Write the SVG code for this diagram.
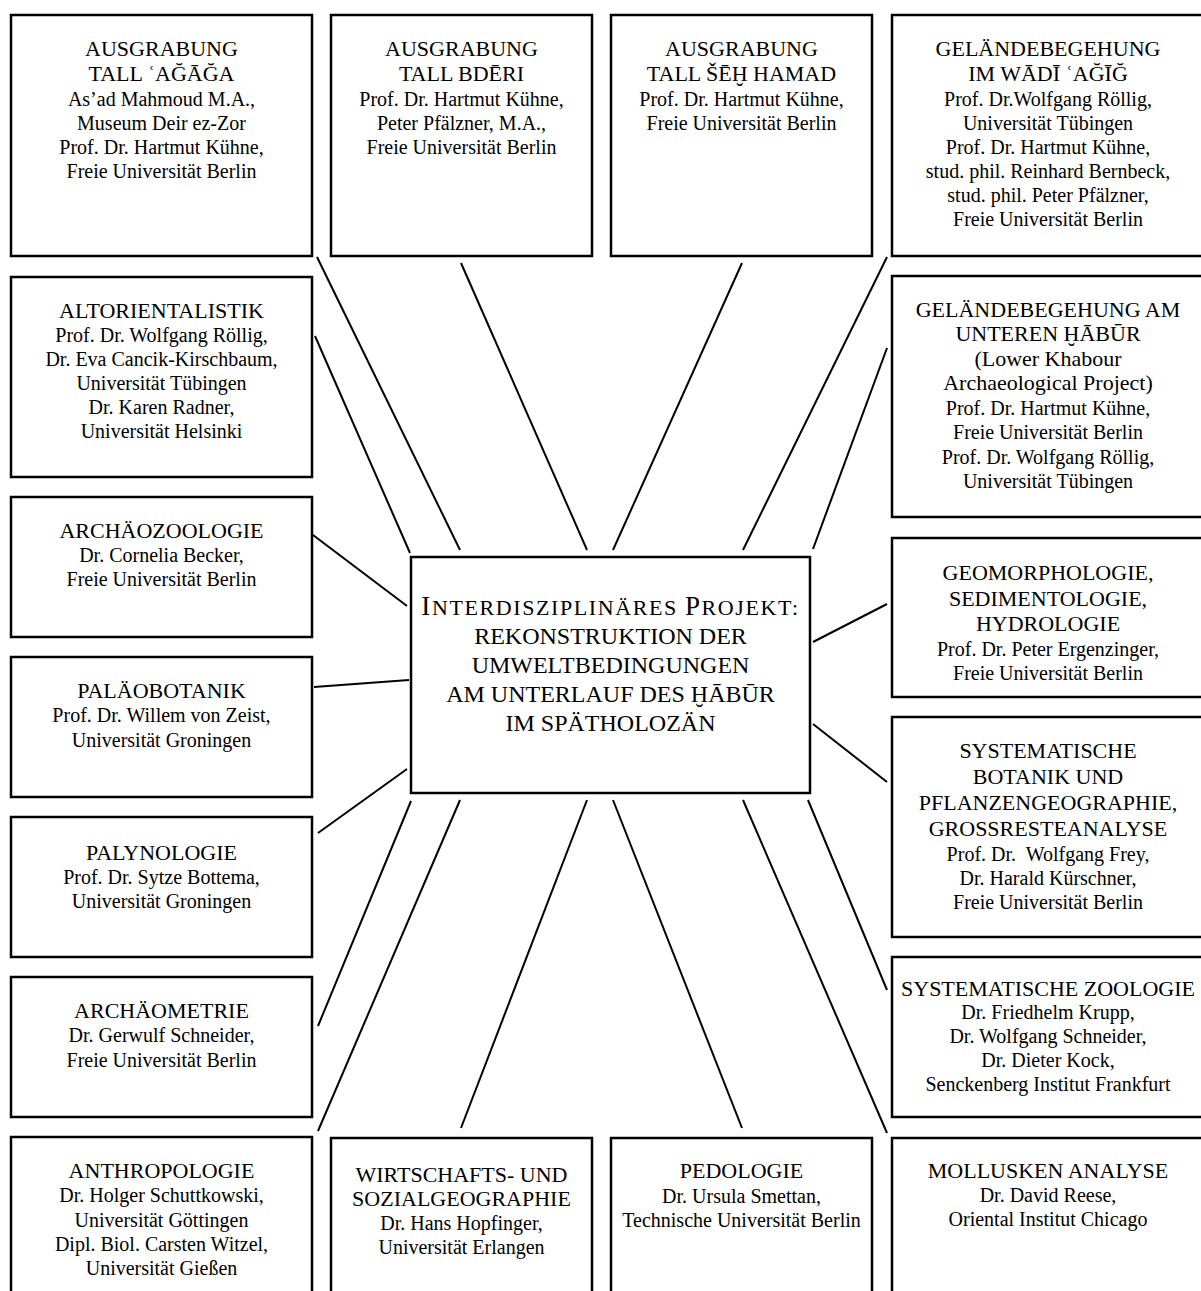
<svg xmlns="http://www.w3.org/2000/svg" width="1201" height="1291" viewBox="0 0 1201 1291">
<style>
  .box { fill: #ffffff; stroke: #000000; stroke-width: 2.5; }
  .edge { stroke: #000000; stroke-width: 2; fill: none; }
  text { font-family: "Liberation Serif", "DejaVu Serif", "Times New Roman", serif; fill: #000000; text-anchor: middle; }
  .t { font-size: 22px; }
  .b { font-size: 20px; }
  .c { font-size: 24px; }
</style>
<rect width="1201" height="1291" fill="#ffffff"/>
<g id="connectors">
  <line class="edge" x1="317" y1="257" x2="460" y2="550"/>
  <line class="edge" x1="461" y1="263" x2="587" y2="550"/>
  <line class="edge" x1="742" y1="263" x2="613" y2="550"/>
  <line class="edge" x1="887" y1="257" x2="743" y2="550"/>
  <line class="edge" x1="315" y1="336" x2="410" y2="553"/>
  <line class="edge" x1="313" y1="535" x2="407" y2="606"/>
  <line class="edge" x1="314" y1="687" x2="409" y2="680"/>
  <line class="edge" x1="318" y1="833" x2="407" y2="769"/>
  <line class="edge" x1="318" y1="1026" x2="411" y2="801"/>
  <line class="edge" x1="318" y1="1131" x2="460" y2="800"/>
  <line class="edge" x1="461" y1="1128" x2="587" y2="800"/>
  <line class="edge" x1="742" y1="1128" x2="613" y2="800"/>
  <line class="edge" x1="887" y1="1133" x2="743" y2="800"/>
  <line class="edge" x1="887" y1="348" x2="813" y2="549"/>
  <line class="edge" x1="887" y1="604" x2="813" y2="642"/>
  <line class="edge" x1="887" y1="782" x2="813" y2="724"/>
  <line class="edge" x1="887" y1="990" x2="808" y2="800"/>
</g>
<g id="center">
  <rect class="box" x="411" y="557" width="399" height="236"/>
  <text x="610.5" y="615" font-size="22" letter-spacing="1.6"><tspan font-size="27">I</tspan>NTERDISZIPLINÄRES <tspan font-size="27">P</tspan>ROJEKT:</text>
  <text class="c" x="610.5" y="644">REKONSTRUKTION DER</text>
  <text class="c" x="610.5" y="673">UMWELTBEDINGUNGEN</text>
  <text class="c" x="610.5" y="702">AM UNTERLAUF DES ḪĀBŪR</text>
  <text class="c" x="610.5" y="731">IM SPÄTHOLOZÄN</text>
</g>
<g id="n-tall-agaga">
  <rect class="box" x="11" y="15" width="301" height="241"/>
  <text class="t" x="161.5" y="56">AUSGRABUNG</text>
  <text class="t" x="161.5" y="81">TALL ʿAĞĀĞA</text>
  <text class="b" x="161.5" y="106">As’ad Mahmoud M.A.,</text>
  <text class="b" x="161.5" y="130">Museum Deir ez-Zor</text>
  <text class="b" x="161.5" y="154">Prof. Dr. Hartmut Kühne,</text>
  <text class="b" x="161.5" y="178">Freie Universität Berlin</text>
</g>
<g id="n-tall-bderi">
  <rect class="box" x="331" y="15" width="261" height="241"/>
  <text class="t" x="461.5" y="56">AUSGRABUNG</text>
  <text class="t" x="461.5" y="81">TALL BDĒRI</text>
  <text class="b" x="461.5" y="106">Prof. Dr. Hartmut Kühne,</text>
  <text class="b" x="461.5" y="130">Peter Pfälzner, M.A.,</text>
  <text class="b" x="461.5" y="154">Freie Universität Berlin</text>
</g>
<g id="n-tall-seh-hamad">
  <rect class="box" x="611" y="15" width="261" height="241"/>
  <text class="t" x="741.5" y="56">AUSGRABUNG</text>
  <text class="t" x="741.5" y="81">TALL ŠĒḪ HAMAD</text>
  <text class="b" x="741.5" y="106">Prof. Dr. Hartmut Kühne,</text>
  <text class="b" x="741.5" y="130">Freie Universität Berlin</text>
</g>
<g id="n-wadi-agig">
  <rect class="box" x="892" y="15" width="312" height="241"/>
  <text class="t" x="1048" y="56">GELÄNDEBEGEHUNG</text>
  <text class="t" x="1048" y="81">IM WĀDĪ ʿAĞĪĞ</text>
  <text class="b" x="1048" y="106">Prof. Dr.Wolfgang Röllig,</text>
  <text class="b" x="1048" y="130">Universität Tübingen</text>
  <text class="b" x="1048" y="154">Prof. Dr. Hartmut Kühne,</text>
  <text class="b" x="1048" y="178">stud. phil. Reinhard Bernbeck,</text>
  <text class="b" x="1048" y="202">stud. phil. Peter Pfälzner,</text>
  <text class="b" x="1048" y="226">Freie Universität Berlin</text>
</g>
<g id="n-altorientalistik">
  <rect class="box" x="11" y="277" width="301" height="200"/>
  <text class="t" x="161.5" y="318">ALTORIENTALISTIK</text>
  <text class="b" x="161.5" y="342">Prof. Dr. Wolfgang Röllig,</text>
  <text class="b" x="161.5" y="366">Dr. Eva Cancik-Kirschbaum,</text>
  <text class="b" x="161.5" y="390">Universität Tübingen</text>
  <text class="b" x="161.5" y="414">Dr. Karen Radner,</text>
  <text class="b" x="161.5" y="438">Universität Helsinki</text>
</g>
<g id="n-unterer-habur">
  <rect class="box" x="892" y="276" width="312" height="241"/>
  <text class="t" x="1048" y="317">GELÄNDEBEGEHUNG AM</text>
  <text class="t" x="1048" y="341">UNTEREN ḪĀBŪR</text>
  <text class="t" x="1048" y="366">(Lower Khabour</text>
  <text class="t" x="1048" y="390">Archaeological Project)</text>
  <text class="b" x="1048" y="415">Prof. Dr. Hartmut Kühne,</text>
  <text class="b" x="1048" y="439">Freie Universität Berlin</text>
  <text class="b" x="1048" y="464">Prof. Dr. Wolfgang Röllig,</text>
  <text class="b" x="1048" y="488">Universität Tübingen</text>
</g>
<g id="n-archaeozoologie">
  <rect class="box" x="11" y="497" width="301" height="140"/>
  <text class="t" x="161.5" y="538">ARCHÄOZOOLOGIE</text>
  <text class="b" x="161.5" y="562">Dr. Cornelia Becker,</text>
  <text class="b" x="161.5" y="586">Freie Universität Berlin</text>
</g>
<g id="n-geomorphologie">
  <rect class="box" x="892" y="538" width="312" height="159"/>
  <text class="t" x="1048" y="580">GEOMORPHOLOGIE,</text>
  <text class="t" x="1048" y="606">SEDIMENTOLOGIE,</text>
  <text class="t" x="1048" y="631">HYDROLOGIE</text>
  <text class="b" x="1048" y="656">Prof. Dr. Peter Ergenzinger,</text>
  <text class="b" x="1048" y="680">Freie Universität Berlin</text>
</g>
<g id="n-palaeobotanik">
  <rect class="box" x="11" y="657" width="301" height="140"/>
  <text class="t" x="161.5" y="698">PALÄOBOTANIK</text>
  <text class="b" x="161.5" y="722">Prof. Dr. Willem von Zeist,</text>
  <text class="b" x="161.5" y="747">Universität Groningen</text>
</g>
<g id="n-botanik">
  <rect class="box" x="892" y="717" width="312" height="220"/>
  <text class="t" x="1048" y="758">SYSTEMATISCHE</text>
  <text class="t" x="1048" y="784">BOTANIK UND</text>
  <text class="t" x="1048" y="810">PFLANZENGEOGRAPHIE,</text>
  <text class="t" x="1048" y="836">GROSSRESTEANALYSE</text>
  <text class="b" x="1048" y="861" xml:space="preserve">Prof. Dr.  Wolfgang Frey,</text>
  <text class="b" x="1048" y="885">Dr. Harald Kürschner,</text>
  <text class="b" x="1048" y="909">Freie Universität Berlin</text>
</g>
<g id="n-palynologie">
  <rect class="box" x="11" y="817" width="301" height="140"/>
  <text class="t" x="161.5" y="860">PALYNOLOGIE</text>
  <text class="b" x="161.5" y="884">Prof. Dr. Sytze Bottema,</text>
  <text class="b" x="161.5" y="908">Universität Groningen</text>
</g>
<g id="n-zoologie">
  <rect class="box" x="892" y="957" width="312" height="160"/>
  <text class="t" x="1048" y="996">SYSTEMATISCHE ZOOLOGIE</text>
  <text class="b" x="1048" y="1019">Dr. Friedhelm Krupp,</text>
  <text class="b" x="1048" y="1043">Dr. Wolfgang Schneider,</text>
  <text class="b" x="1048" y="1067">Dr. Dieter Kock,</text>
  <text class="b" x="1048" y="1091">Senckenberg Institut Frankfurt</text>
</g>
<g id="n-archaeometrie">
  <rect class="box" x="11" y="977" width="301" height="140"/>
  <text class="t" x="161.5" y="1018">ARCHÄOMETRIE</text>
  <text class="b" x="161.5" y="1042">Dr. Gerwulf Schneider,</text>
  <text class="b" x="161.5" y="1067">Freie Universität Berlin</text>
</g>
<g id="n-anthropologie">
  <rect class="box" x="11" y="1137" width="301" height="170"/>
  <text class="t" x="161.5" y="1178">ANTHROPOLOGIE</text>
  <text class="b" x="161.5" y="1202">Dr. Holger Schuttkowski,</text>
  <text class="b" x="161.5" y="1227">Universität Göttingen</text>
  <text class="b" x="161.5" y="1251">Dipl. Biol. Carsten Witzel,</text>
  <text class="b" x="161.5" y="1275">Universität Gießen</text>
</g>
<g id="n-wirtschaftsgeographie">
  <rect class="box" x="331" y="1138" width="261" height="170"/>
  <text class="t" x="461.5" y="1182">WIRTSCHAFTS- UND</text>
  <text class="t" x="461.5" y="1206">SOZIALGEOGRAPHIE</text>
  <text class="b" x="461.5" y="1230">Dr. Hans Hopfinger,</text>
  <text class="b" x="461.5" y="1254">Universität Erlangen</text>
</g>
<g id="n-pedologie">
  <rect class="box" x="611" y="1138" width="261" height="170"/>
  <text class="t" x="741.5" y="1178">PEDOLOGIE</text>
  <text class="b" x="741.5" y="1203">Dr. Ursula Smettan,</text>
  <text class="b" x="741.5" y="1227">Technische Universität Berlin</text>
</g>
<g id="n-mollusken">
  <rect class="box" x="892" y="1138" width="312" height="170"/>
  <text class="t" x="1048" y="1178">MOLLUSKEN ANALYSE</text>
  <text class="b" x="1048" y="1202">Dr. David Reese,</text>
  <text class="b" x="1048" y="1226">Oriental Institut Chicago</text>
</g>
</svg>
